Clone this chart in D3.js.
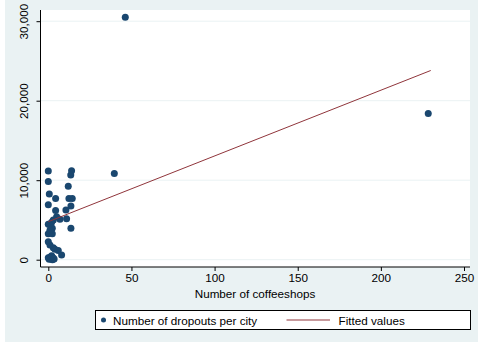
<!DOCTYPE html>
<html><head><meta charset="utf-8">
<script src="https://cdn.jsdelivr.net/npm/d3@7"></script>
<style>body{margin:0;background:#fff}svg{display:block}text{font-family:"Liberation Sans",Arial,Helvetica,sans-serif;fill:#000}</style>
</head><body><svg id="c" width="478" height="345"></svg>
<script>
const coffeeshops = [0,0,0.6,4.4,0,4.4,14,13.5,12,12.4,14.4,13.6,10.6,11,7,5,3,2,0,1.5,2.4,13.6,0,2.4,1,0,1,3,4,6,8,1,2,3,0,0.5,1.5,2.5,3.5,39.7,46.3,228.5];
const dropouts = [11150,9850,8250,7700,6900,6200,11200,10650,9250,7700,7700,6750,6250,5150,5100,5400,5000,4700,4450,4200,3950,3950,3250,3250,3700,2250,1850,1500,1300,1150,600,300,500,200,250,50,100,0,100,10850,30500,18400];
const fitX = [0,230];
const fitY = [4780,23800];
const xTicks = [0,50,100,150,200,250];
const yTicks = [0,10000,20000,30000];
const legendLabels = ["Number of dropouts per city","Fitted values"];
const xTitle = "Number of coffeeshops";

const svg = d3.select("#c");
svg.append("rect").attr("x",5).attr("y",0).attr("width",473).attr("height",342).attr("fill","#eaf2f3");
const L=40.5,R=470,T=10,B=267;
svg.append("rect").attr("x",L).attr("y",T).attr("width",R-L).attr("height",B-T).attr("fill","#fff");
const x = d3.scaleLinear().domain([0,250]).range([48.3,464]);
const y = d3.scaleLinear().domain([0,30000]).range([259.7,21.2]);
const fmt = d3.format(",");
const fs = 11.7;
svg.append("g").selectAll("line").data(yTicks).join("line")
  .attr("x1",L).attr("x2",R).attr("y1",d=>y(d)).attr("y2",d=>y(d))
  .attr("stroke","#eaf2f3").attr("stroke-width",1);
const ya = svg.append("g").attr("transform",`translate(${L},0)`)
  .call(d3.axisLeft(y).tickValues(yTicks).tickSize(4).tickFormat(fmt));
ya.select(".domain").attr("d",`M0,${T}V${B}`).attr("stroke","#000");
ya.selectAll(".tick line").attr("stroke","#000");
ya.selectAll(".tick text").attr("transform","rotate(-90)").attr("x",0).attr("y",-12.5)
  .attr("dy","0").attr("text-anchor","middle").attr("font-size",fs);
const xa = svg.append("g").attr("transform",`translate(0,${B})`)
  .call(d3.axisBottom(x).tickValues(xTicks).tickSize(4).tickFormat(d3.format("d")));
xa.select(".domain").attr("d",`M${L},0H${R}`).attr("stroke","#000");
xa.selectAll(".tick line").attr("stroke","#000");
xa.selectAll(".tick text").attr("y",7).attr("font-size",fs);
svg.append("text").attr("x",255).attr("y",298).attr("text-anchor","middle").attr("font-size",fs).text(xTitle);
svg.append("g").selectAll("circle").data(coffeeshops.map((c,i)=>[c,dropouts[i]])).join("circle")
  .attr("cx",d=>x(d[0])).attr("cy",d=>y(d[1])).attr("r",3.5).attr("fill","#1a476f");
const line = d3.line().x(d=>x(d[0])).y(d=>y(d[1]));
svg.append("path").datum(fitX.map((v,i)=>[v,fitY[i]])).attr("d",line)
  .attr("stroke","#90353b").attr("stroke-width",1).attr("fill","none");
const lg = svg.append("g");
lg.append("rect").attr("x",95.5).attr("y",310.5).attr("width",375).attr("height",19).attr("fill","#fff").attr("stroke","#000").attr("stroke-width",1);
lg.append("circle").attr("cx",103.5).attr("cy",320).attr("r",2.5).attr("fill","#1a476f");
lg.append("text").attr("x",113).attr("y",324.5).attr("font-size",fs).text(legendLabels[0]);
lg.append("line").attr("x1",286.5).attr("x2",330).attr("y1",320).attr("y2",320).attr("stroke","#90353b");
lg.append("text").attr("x",338.5).attr("y",324.5).attr("font-size",fs).text(legendLabels[1]);
</script></body></html>
